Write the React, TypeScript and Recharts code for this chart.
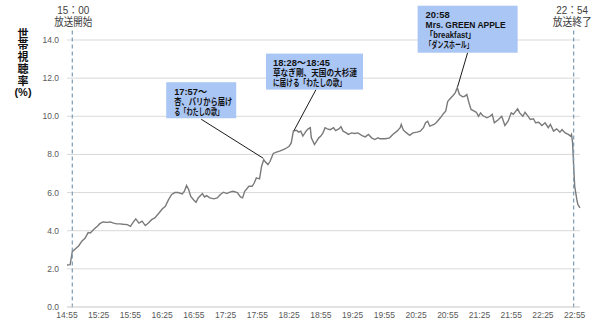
import React from "react";
import { LineChart, Line, XAxis, YAxis, CartesianGrid, ReferenceLine, ReferenceDot } from "recharts";

// minutes after 14:55 and household rating (%)
const minutes = [
  0, 3, 4, 5, 8, 11, 14, 17, 20, 22, 25, 27, 29, 31, 34, 38, 41, 44, 47, 50,
  53, 57, 60, 62, 65, 68, 71, 74, 77, 80, 83, 87, 90, 93, 96, 99, 102, 105, 109, 111,
  113, 115, 117, 120, 122, 124, 128, 130, 132, 135, 139, 142, 145, 148, 151, 154, 157, 161, 164, 166,
  168, 172, 175, 177, 179, 182, 184, 186, 187, 190, 192, 195, 198, 201, 205, 208, 210, 212, 214, 217,
  219, 221, 223, 226, 228, 230, 231, 234, 235, 238, 240, 242, 244, 246, 249, 252, 254, 257, 259, 261,
  264, 266, 269, 272, 275, 279, 282, 285, 288, 291, 294, 296, 301, 305, 308, 312, 315, 316, 318, 321,
  324, 327, 331, 334, 337, 339, 341, 343, 347, 349, 353, 356, 358, 360, 363, 365, 367, 369, 371, 374,
  376, 378, 380, 382, 385, 387, 389, 391, 393, 397, 400, 402, 404, 408, 411, 414, 417, 420, 422, 426,
  428, 431, 433, 436, 438, 441, 443, 446, 449, 452, 455, 457, 460, 463, 466, 468, 471, 474, 476, 477,
  478, 479, 480, 482, 483, 485,
];

const rating = [
  2.2, 2.22, 2.57, 2.9, 3.05, 3.2, 3.45, 3.6, 3.9, 3.88, 4.05, 4.15, 4.25, 4.37, 4.46, 4.44, 4.46, 4.4, 4.36, 4.36,
  4.34, 4.32, 4.23, 4.4, 4.62, 4.4, 4.5, 4.27, 4.4, 4.58, 4.67, 4.93, 5.14, 5.28, 5.63, 5.9, 6.0, 6.0, 5.93, 6.07,
  6.37, 6.16, 5.8, 5.6, 5.49, 5.72, 5.95, 5.77, 5.84, 5.72, 5.67, 5.72, 5.9, 6.02, 5.95, 6.02, 6.07, 6.0, 5.77, 5.72,
  6.07, 6.33, 6.33, 6.5, 6.77, 6.72, 7.38, 7.73, 7.64, 7.47, 7.64, 8.05, 8.12, 8.17, 8.26, 8.35, 8.43, 8.6, 9.22, 9.27,
  9.17, 9.22, 8.96, 9.22, 9.34, 9.4, 8.87, 8.52, 8.6, 8.87, 8.96, 9.13, 9.4, 9.34, 9.3, 9.4, 9.25, 9.34, 9.45, 9.22,
  9.13, 9.05, 9.13, 9.1, 9.13, 8.99, 8.92, 9.05, 8.87, 8.78, 8.87, 8.82, 8.82, 8.87, 9.05, 9.22, 9.4, 9.57, 9.27, 9.13,
  9.0, 9.13, 9.17, 9.22, 9.4, 9.66, 9.74, 9.48, 9.57, 9.66, 9.92, 10.15, 10.27, 10.79, 10.97, 11.09, 11.23, 11.5, 11.14, 11.02,
  11.05, 11.14, 10.71, 10.36, 10.27, 10.21, 10.0, 10.18, 10.04, 9.92, 10.0, 10.1, 9.66, 9.83, 10.0, 9.52, 9.74, 10.18, 10.1, 10.39,
  10.18, 10.0, 10.21, 10.0, 9.83, 9.87, 9.66, 9.69, 9.52, 9.66, 9.4, 9.57, 9.22, 9.34, 9.17, 9.3, 9.13, 9.05, 8.96, 9.05,
  8.6, 7.38, 6.33, 5.63, 5.37, 5.2,
];

const xTicks = [0, 30, 60, 90, 120, 150, 180, 210, 240, 270, 300, 330, 360, 390, 420, 450, 480];
const yTicks = [0, 2, 4, 6, 8, 10, 12, 14];

const broadcastMarks = [5, 479];
const broadcastTimes = ["15：00", "22：54"];
const broadcastNotes = ["放送開始", "放送終了"];

const noteTimes = [185.5, 214.6, 369.3];
const noteValues = [7.8, 9.25, 11.55];
const noteTexts = [
  ["17:57～", "杏、パリから届け", "る「わたしの歌」"],
  ["18:28～18:45", "草なぎ剛、天国の大杉漣", "に届ける「わたしの歌」"],
  ["20:58", "Mrs. GREEN APPLE", "「breakfast」", "「ダンスホール」"],
];

// box layout relative to the anchor point on the line, and rendered line widths
const noteLayout = [
  { dx: -97, dy: -76, w: 70, h: 36, lx: -62, ly: -39, tw: [33, 58, 49], tx: 8 },
  { dx: -28, dy: -77, w: 97, h: 36, lx: 22, ly: -41, tw: [57, 84, 73], tx: 7 },
  { dx: -40, dy: -81, w: 100, h: 47, lx: 10, ly: -34, tw: [24, 80, 50, 47], tx: 8 },
];

const START = 14 * 60 + 55;
const fmtTime = (m: number) => {
  const t = START + m;
  return `${Math.floor(t / 60)}:${String(t % 60).padStart(2, "0")}`;
};

const data = minutes.map((m, i) => ({ m, v: rating[i] }));

const FONT = "'Liberation Sans', Arial, 'Noto Sans CJK JP', sans-serif";

function NoteShape(props: any) {
  const { cx, cy, idx } = props;
  const L = noteLayout[idx];
  const x = cx + L.dx;
  const y = cy + L.dy;
  return (
    <g>
      <line x1={cx + L.lx} y1={cy + L.ly} x2={cx} y2={cy} stroke="#1a1a1a" strokeWidth={1} />
      <rect x={x} y={y} width={L.w} height={L.h} fill="#aac6f5" />
      {noteTexts[idx].map((t, i) => (
        <text
          key={i}
          x={x + L.tx}
          y={y + 9.5 + i * 10}
          textLength={L.tw[i]}
          lengthAdjust="spacingAndGlyphs"
          style={{ fontSize: "9px", fontWeight: 700, fontFamily: FONT }}
          fill="#111"
          dominantBaseline="central"
        >
          {t}
        </text>
      ))}
    </g>
  );
}

const markWidths = [
  [32, 38],
  [32, 39],
];

function MarkShape(props: any) {
  const { x1, y1, x2, y2, idx } = props;
  const cx = idx === 0 ? x1 + 1 : x1 - 1.5;
  return (
    <g>
      <line x1={x1} y1={y1} x2={x2} y2={y2} stroke="#7d9bb2" strokeWidth={1.2} strokeDasharray="4 3" />
      <text x={cx} y={y1 - 20.5} textAnchor="middle" dominantBaseline="central" textLength={markWidths[idx][0]} lengthAdjust="spacingAndGlyphs" style={{ fontSize: "11px", fontFamily: FONT }} fill="#404040">
        {broadcastTimes[idx]}
      </text>
      <text x={cx} y={y1 - 8.5} textAnchor="middle" dominantBaseline="central" textLength={markWidths[idx][1]} lengthAdjust="spacingAndGlyphs" style={{ fontSize: "11px", fontFamily: FONT }} fill="#404040">
        {broadcastNotes[idx]}
      </text>
    </g>
  );
}

const axisTitle = "世帯視聴率";
const axisUnit = "(%)";

export default function App() {
  return (
    <div style={{ position: "absolute", left: 0, top: 0, width: 600, height: 328, background: "#fff" }}>
      <div
        style={{
          position: "absolute",
          left: 16,
          top: 27.5,
          width: 14,
          lineHeight: "14px",
          writingMode: "vertical-rl",
          textOrientation: "upright",
          letterSpacing: "0.8px",
          fontFamily: "'Noto Sans CJK JP', sans-serif",
          fontWeight: 700,
          fontSize: 11,
          color: "#111",
        }}
      >
        {axisTitle}
      </div>
      <div style={{ position: "absolute", left: 8, top: 85, width: 30, textAlign: "center", lineHeight: "14px", fontFamily: FONT, fontWeight: 700, fontSize: 11, color: "#111" }}>
        {axisUnit}
      </div>
      <LineChart width={600} height={328} data={data} margin={{ top: 40, right: 20, bottom: 1, left: 0 }}>
        <CartesianGrid vertical={false} stroke="#d9d9d9" strokeWidth={1} />
        <XAxis
          dataKey="m"
          type="number"
          domain={[0, 485]}
          ticks={xTicks}
          tickFormatter={fmtTime}
          height={20}
          axisLine={{ stroke: "#d9d9d9" }}
          tickLine={false}
          tickSize={0}
          tickMargin={5}
          interval={0}
          tick={{ fontSize: 8.5, fill: "#595959", fontFamily: FONT }}
        />
        <YAxis
          type="number"
          domain={[0, 14]}
          ticks={yTicks}
          tickFormatter={(v: number) => v.toFixed(1)}
          width={67}
          axisLine={false}
          tickLine={false}
          tickSize={0}
          tickMargin={8}
          tick={{ fontSize: 8.5, fill: "#595959", fontFamily: FONT }}
        />
        <Line type="linear" dataKey="v" stroke="#7a7a7a" strokeWidth={1.4} dot={false} isAnimationActive={false} />
        {broadcastMarks.map((m, i) => (
          <ReferenceLine
            key={m}
            segment={[{ x: m, y: 14.5 }, { x: m, y: -0.15 }]}
            ifOverflow="visible"
            shape={(p: any) => <MarkShape {...p} idx={i} />}
          />
        ))}
        {noteTimes.map((m, i) => (
          <ReferenceDot
            key={m}
            x={m}
            y={noteValues[i]}
            ifOverflow="visible"
            shape={(p: any) => <NoteShape {...p} idx={i} />}
          />
        ))}
      </LineChart>
    </div>
  );
}
